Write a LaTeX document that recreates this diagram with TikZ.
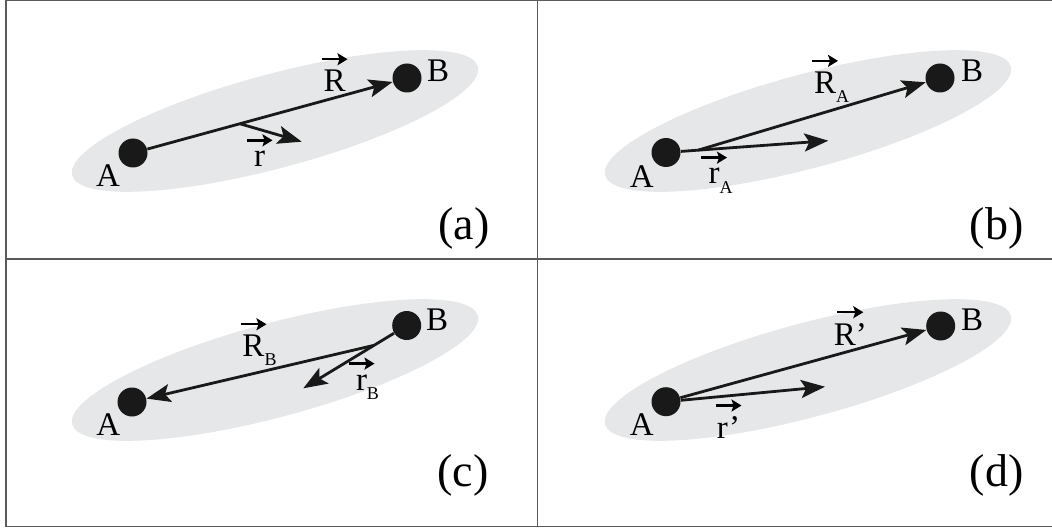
\documentclass[tikz,border=0pt]{standalone}
\usepackage{amsmath}
\usepackage{mathtools}
\usepackage{fontspec}
\setmainfont{Liberation Serif}
\usetikzlibrary{calc, arrows.meta}
\definecolor{shadegray}{RGB}{230,231,232}
\definecolor{framegray}{RGB}{90,90,90}
\newcommand{\vecarrow}{\tikz[baseline=0pt]{\draw[-{Stealth[length=5pt, width=6pt, inset=1pt]}, line width=1.2pt] (0pt,0pt) -- (13pt,0pt); \path (0pt,-3.5pt);}}
\newcommand{\vlab}[2]{$\overset{\mathclap{\vecarrow}}{\text{#1}}_{\raisebox{-2pt}{\fontsize{9}{10}\selectfont #2}}$}

\begin{document}
\begin{tikzpicture}[
        x=0.5pt, y=-0.5pt,
        dot/.style={circle, fill=black!90, inner sep=0pt, minimum size=14.5pt},
        vec/.style={-{Stealth[length=12pt, width=9pt, inset=2.5pt]}, line width=1.4pt, black!90},
        lbl/.style={font=\fontsize{16.5}{18}\selectfont, inner sep=0pt, anchor=base},
        tag/.style={font=\fontsize{23}{26}\selectfont, inner sep=0pt, anchor=base},
        blob/.style={fill=shadegray},
        frame/.style={draw=framegray, line width=0.6pt},
    ]

    \useasboundingbox (0,0) rectangle (1052,529);

    % ===== Shaded molecules =====
    \foreach \cx/\cy in {275/121, 808/121, 275/370, 808/370} {
        \fill[blob, rotate around={15:(\cx,\cy)}] (\cx,\cy) ellipse [x radius=105pt, y radius=23.5pt];
    }

    % ===== Frame =====
    \draw[frame] (1052,0.7) -- (6,0.7) -- (6,526.3) -- (1052,526.3);
    \draw[frame] (537.7,0.7) -- (537.7,526.3);
    \draw[frame] (6,259) -- (1052,259);

    % ===== Panel (a) =====
    \node[dot] (A1) at (133,153) {};
    \node[dot] (B1) at (407,78) {};
    \node[lbl] (LA1) at (108,186.7) {A};
    \node[lbl] (LB1) at (438,81.7) {B};
    \coordinate (r1s) at ($(A1)!0.39!(B1)$);
    \coordinate (r1e) at (301.7,141.7);
    \draw[vec] (A1) -- (B1);
    \draw[vec] (r1s) -- (r1e);
    \node[lbl] (R1) at (335,91.7) {\vlab{R}{}};
    \node[lbl] (rr1) at (260,166.7) {\vlab{r}{}};
    \node[tag] (T1) at (464,239) {(a)};

    % ===== Panel (b) =====
    \node[dot] (A2) at (666,152.5) {};
    \node[dot] (B2) at (940,78) {};
    \node[lbl] (LA2) at (641.7,187) {A};
    \node[lbl] (LB2) at (972,81.7) {B};
    \coordinate (R2s) at (698.3,150.1);
    \coordinate (r2e) at (828.3,140.7);
    \draw[vec] (A2) -- (r2e);
    \draw[vec] (R2s) -- (B2);
    \node[lbl] (R2) at (832,93.3) {\vlab{R}{A}};
    \node[lbl] (rr2) at (721,184) {\vlab{r}{A}};
    \node[tag] (T2) at (996.7,239) {(b)};

    % ===== Panel (c) =====
    \node[dot] (A3) at (132,402) {};
    \node[dot] (B3) at (406.7,325.5) {};
    \node[lbl] (LA3) at (108.3,435.7) {A};
    \node[lbl] (LB3) at (437,330) {B};
    \coordinate (R3s) at (373.3,345.5);
    \coordinate (r3e) at (303.3,388.3);
    \draw[vec] (B3) -- (r3e);
    \draw[vec] (R3s) -- (A3);
    \node[lbl] (R3) at (260,356.7) {\vlab{R}{B}};
    \node[lbl] (rr3) at (368,390) {\vlab{r}{B}};
    \node[tag] (T3) at (463,486.7) {(c)};

    % ===== Panel (d) =====
    \node[dot] (A4) at (666,401.7) {};
    \node[dot] (B4) at (940.7,326) {};
    \node[lbl] (LA4) at (641.7,435.7) {A};
    \node[lbl] (LB4) at (972,330) {B};
    \coordinate (r4e) at (825,386.7);
    \draw[vec] (A4) -- (B4);
    \draw[vec] (A4) -- (r4e);
    \node[lbl] (R4) at (850.8,345) {\vlab{R’}{}};
    \node[lbl] (rr4) at (729,438.3) {\vlab{r’}{}};
    \node[tag] (T4) at (996.7,486.7) {(d)};

\end{tikzpicture}
\end{document}
